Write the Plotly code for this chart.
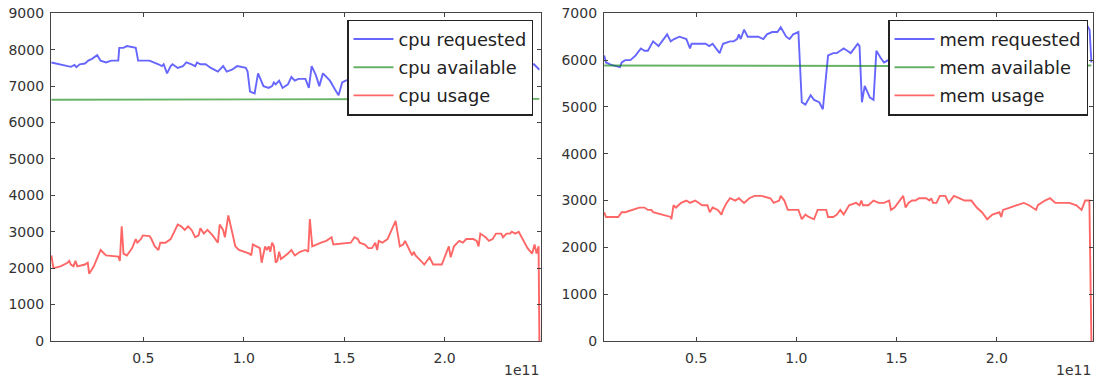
import plotly.graph_objects as go

# ---------------- data (x in units of 1e11) ----------------
cpu_req_x = [0.042, 0.087, 0.122, 0.139, 0.157, 0.166, 0.183, 0.209, 0.226, 0.244, 0.270, 0.287,
             0.314, 0.340, 0.375, 0.380, 0.401, 0.418, 0.462, 0.474, 0.531, 0.557, 0.575, 0.592,
             0.601, 0.618, 0.636, 0.645, 0.671, 0.697, 0.714, 0.740, 0.758, 0.767, 0.784, 0.810,
             0.836, 0.871, 0.897, 0.915, 0.941, 0.967, 1.010, 1.019, 1.031, 1.054, 1.071, 1.098,
             1.124, 1.141, 1.150, 1.159, 1.176, 1.193, 1.220, 1.237, 1.254, 1.272, 1.307, 1.324,
             1.338, 1.359, 1.376, 1.394, 1.429, 1.455, 1.472, 1.490, 1.507, 1.600, 1.750, 1.900,
             2.050, 2.200, 2.350, 2.445, 2.472]
cpu_req_y = [7650, 7600, 7550, 7530, 7580, 7520, 7600, 7620, 7700, 7750, 7850, 7700,
             7650, 7700, 7700, 8050, 8050, 8100, 8050, 7700, 7700, 7650, 7600, 7550,
             7600, 7350, 7550, 7600, 7500, 7550, 7650, 7600, 7550, 7650, 7600, 7600,
             7500, 7400, 7550, 7400, 7450, 7550, 7500, 7400, 6850, 6800, 7350, 7000,
             6950, 7000, 7100, 7050, 7150, 6950, 7050, 7250, 7150, 7200, 7200, 6950,
             7550, 7300, 7000, 7350, 7150, 6900, 6750, 7100, 7150, 7300, 7250, 7400,
             7350, 7500, 7550, 7600, 7450]

cpu_avail_x = [0.042, 0.5, 1.0, 1.5, 2.0, 2.472]
cpu_avail_y = [6625, 6625, 6630, 6640, 6645, 6650]

cpu_use_x = [0.042, 0.052, 0.087, 0.122, 0.131, 0.139, 0.152, 0.162, 0.171, 0.209, 0.223, 0.230,
             0.253, 0.287, 0.314, 0.375, 0.383, 0.392, 0.401, 0.418, 0.444, 0.462, 0.470, 0.488,
             0.497, 0.531, 0.540, 0.557, 0.575, 0.584, 0.610, 0.636, 0.645, 0.671, 0.688, 0.706,
             0.723, 0.740, 0.758, 0.775, 0.784, 0.801, 0.819, 0.845, 0.871, 0.880, 0.897, 0.906,
             0.923, 0.941, 0.958, 0.976, 1.028, 1.037, 1.045, 1.063, 1.080, 1.089, 1.106, 1.115,
             1.124, 1.132, 1.141, 1.150, 1.159, 1.167, 1.176, 1.185, 1.220, 1.237, 1.254, 1.280,
             1.307, 1.321, 1.329, 1.341, 1.359, 1.385, 1.411, 1.437, 1.446, 1.533, 1.551, 1.568,
             1.577, 1.603, 1.620, 1.638, 1.655, 1.664, 1.672, 1.690, 1.716, 1.756, 1.777, 1.794,
             1.803, 1.821, 1.838, 1.847, 1.855, 1.882, 1.899, 1.925, 1.934, 1.943, 1.986, 2.021,
             2.030, 2.047, 2.064, 2.073, 2.091, 2.108, 2.143, 2.160, 2.169, 2.178, 2.204, 2.221,
             2.239, 2.256, 2.282, 2.291, 2.308, 2.326, 2.334, 2.352, 2.369, 2.387, 2.413, 2.436,
             2.448, 2.458, 2.468, 2.472]
cpu_use_y = [2350, 2000, 2050, 2150, 2200, 2100, 2050, 2200, 2050, 2100, 2150, 1850,
             2050, 2500, 2350, 2320, 2200, 3150, 2400, 2350, 2550, 2800, 2700, 2800,
             2900, 2880, 2800, 2600, 2500, 2700, 2700, 2800, 2900, 3200, 3150, 3050,
             3150, 3050, 2850, 2900, 3100, 2950, 3050, 2900, 2700, 3200, 3050, 2850,
             3450, 3000, 2600, 2500, 2400, 2350, 2650, 2600, 2550, 2150, 2600, 2500,
             2600, 2450, 2700, 2600, 2150, 2200, 2450, 2250, 2400, 2500, 2350, 2450,
             2500, 2450, 3350, 2600, 2650, 2700, 2750, 2850, 2650, 2700, 2850, 2800,
             2700, 2650, 2550, 2550, 2700, 2500, 2750, 2700, 2800, 3300, 2600, 2650,
             2750, 2550, 2350, 2450, 2350, 2200, 2100, 2300, 2200, 2100, 2100, 2600,
             2300, 2600, 2700, 2750, 2700, 2800, 2800, 2750, 2600, 2950, 2850, 2750,
             2800, 2950, 2950, 2850, 2950, 2950, 3000, 2950, 3000, 2800, 2550, 2400,
             2650, 2400, 2600, 0]

mem_req_x = [0.041, 0.050, 0.076, 0.111, 0.120, 0.128, 0.146, 0.172, 0.198, 0.224, 0.242, 0.259,
             0.285, 0.312, 0.329, 0.355, 0.373, 0.390, 0.416, 0.451, 0.469, 0.477, 0.512, 0.547,
             0.565, 0.582, 0.599, 0.617, 0.634, 0.669, 0.687, 0.704, 0.713, 0.722, 0.739, 0.757,
             0.783, 0.809, 0.835, 0.853, 0.879, 0.905, 0.922, 0.949, 0.966, 0.984, 1.010, 1.027,
             1.045, 1.071, 1.088, 1.114, 1.132, 1.158, 1.184, 1.202, 1.219, 1.236, 1.254, 1.271,
             1.289, 1.306, 1.315, 1.327, 1.341, 1.367, 1.385, 1.399, 1.420, 1.437, 1.550, 1.700,
             1.850, 2.000, 2.150, 2.300, 2.420, 2.449, 2.463, 2.472]
mem_req_y = [6100, 5950, 5900, 5850, 5850, 5950, 6000, 6000, 6100, 6250, 6200, 6200,
             6400, 6300, 6400, 6550, 6400, 6450, 6500, 6450, 6250, 6350, 6350, 6350,
             6300, 6350, 6250, 6150, 6350, 6400, 6400, 6450, 6550, 6450, 6650, 6500,
             6500, 6500, 6450, 6550, 6600, 6600, 6700, 6500, 6450, 6550, 6600, 5100,
             5050, 5250, 5150, 5100, 4950, 6100, 6150, 6150, 6200, 6250, 6200, 6150,
             6250, 6350, 6300, 5100, 5450, 5200, 5150, 6200, 6050, 5950, 6200, 6300,
             6100, 6400, 6350, 6500, 6700, 6750, 6650, 5950]

mem_avail_x = [0.041, 0.5, 1.0, 1.5, 2.0, 2.472]
mem_avail_y = [5885, 5880, 5875, 5875, 5880, 5885]

mem_use_x = [0.041, 0.050, 0.111, 0.120, 0.128, 0.146, 0.181, 0.216, 0.242, 0.259, 0.277, 0.285,
             0.373, 0.376, 0.387, 0.399, 0.425, 0.451, 0.469, 0.495, 0.530, 0.556, 0.568, 0.582,
             0.608, 0.626, 0.634, 0.652, 0.669, 0.695, 0.713, 0.739, 0.765, 0.791, 0.826, 0.870,
             0.887, 0.914, 0.922, 0.940, 0.957, 0.992, 1.010, 1.027, 1.045, 1.062, 1.088, 1.106,
             1.132, 1.149, 1.158, 1.184, 1.202, 1.219, 1.236, 1.263, 1.298, 1.315, 1.324, 1.332,
             1.359, 1.385, 1.411, 1.437, 1.463, 1.472, 1.490, 1.507, 1.533, 1.545, 1.559, 1.577,
             1.594, 1.612, 1.647, 1.664, 1.673, 1.682, 1.699, 1.716, 1.743, 1.760, 1.786, 1.812,
             1.839, 1.873, 1.900, 1.926, 1.952, 1.978, 2.013, 2.022, 2.031, 2.065, 2.100, 2.135,
             2.161, 2.179, 2.196, 2.205, 2.240, 2.266, 2.292, 2.327, 2.362, 2.397, 2.423, 2.441,
             2.462, 2.472]
mem_use_y = [2750, 2650, 2650, 2700, 2750, 2750, 2800, 2850, 2850, 2800, 2800, 2750,
             2650, 2600, 2900, 2850, 2950, 3000, 2950, 3000, 2900, 2900, 2750, 2850,
             2800, 2700, 2800, 2950, 3050, 3000, 3050, 2950, 3050, 3100, 3100, 3050,
             2950, 3000, 3100, 3000, 2800, 2800, 2800, 2600, 2700, 2650, 2600, 2800,
             2800, 2800, 2650, 2650, 2700, 2800, 2700, 2900, 2950, 2900, 3000, 2900,
             2900, 3000, 2950, 2950, 3000, 2800, 2850, 2950, 3100, 2850, 2950, 3000,
             3000, 3050, 3050, 3000, 3050, 2950, 2950, 3100, 3100, 2950, 3100, 3050,
             3000, 3000, 2850, 2750, 2600, 2700, 2750, 2650, 2800, 2850, 2900, 2950,
             2900, 2850, 2800, 2900, 3000, 3050, 2950, 2950, 2950, 2900, 2800, 3000,
             3000, 0]

left_names = ["cpu requested", "cpu available", "cpu usage"]
right_names = ["mem requested", "mem available", "mem usage"]
x_ticks = [0.5, 1.0, 1.5, 2.0]
x_range = [0.04, 2.48]

BLUE = "rgba(0,0,255,0.6)"
GREEN = "rgba(0,128,0,0.6)"
RED = "rgba(255,0,0,0.6)"
colors = [BLUE, GREEN, RED]

fig = go.Figure()
left_series = [(cpu_req_x, cpu_req_y), (cpu_avail_x, cpu_avail_y), (cpu_use_x, cpu_use_y)]
right_series = [(mem_req_x, mem_req_y), (mem_avail_x, mem_avail_y), (mem_use_x, mem_use_y)]
for i, ((xs, ys), name) in enumerate(zip(left_series, left_names)):
    fig.add_trace(go.Scatter(x=xs, y=ys, name=name, mode="lines",
                             line=dict(color=colors[i], width=1.9),
                             xaxis="x", yaxis="y", legend="legend",
                             legendgroup="l%d" % i))
for i, ((xs, ys), name) in enumerate(zip(right_series, right_names)):
    fig.add_trace(go.Scatter(x=xs, y=ys, name=name, mode="lines",
                             line=dict(color=colors[i], width=1.9),
                             xaxis="x2", yaxis="y2", legend="legend2",
                             legendgroup="r%d" % i))

W, H = 1099, 379
ax_common = dict(showline=True, linecolor="#444", linewidth=1.3, mirror="ticks",
                 ticks="inside", ticklen=4, tickwidth=1, tickcolor="#444",
                 showgrid=False, zeroline=False, automargin=False,
                 tickfont=dict(family="DejaVu Sans", size=14, color="#333"))
yd = [(H - 341) / H, (H - 13.3) / H]
legend_style = dict(yanchor="top", xanchor="right", bgcolor="white", bordercolor="#222",
                    borderwidth=1.5, font=dict(family="DejaVu Sans", size=17.8, color="#222"),
                    traceorder="grouped", tracegroupgap=2, itemwidth=40)
fig.update_layout(
    width=W, height=H, autosize=False,
    margin=dict(l=0, r=0, t=0, b=0, autoexpand=False),
    paper_bgcolor="white", plot_bgcolor="white",
    xaxis=dict(domain=[51 / W, 541 / W], range=x_range, tickvals=x_ticks,
               tickformat=".1f", anchor="y", ticklabelstandoff=4, **ax_common),
    yaxis=dict(domain=yd, range=[0, 9000], dtick=1000, anchor="x",
               ticklabelstandoff=3, **ax_common),
    xaxis2=dict(domain=[604 / W, 1093 / W], range=x_range, tickvals=x_ticks,
                tickformat=".1f", anchor="y2", ticklabelstandoff=4, **ax_common),
    yaxis2=dict(domain=yd, range=[0, 7000], dtick=1000, anchor="x2",
                ticklabelstandoff=3, **ax_common),
    legend=dict(x=533 / W, y=(H - 19.5) / H, **legend_style),
    legend2=dict(x=1088 / W, y=(H - 19.5) / H, **legend_style),
    annotations=[
        dict(text="1e11", xref="paper", yref="paper", x=541 / W, y=(H - 370) / H,
             xanchor="right", yanchor="middle", showarrow=False,
             font=dict(family="DejaVu Sans", size=14, color="#333")),
        dict(text="1e11", xref="paper", yref="paper", x=1093 / W, y=(H - 370) / H,
             xanchor="right", yanchor="middle", showarrow=False,
             font=dict(family="DejaVu Sans", size=14, color="#333")),
    ],
)

fig.write_html("out.html", config={"displayModeBar": False},
               post_script="document.body.style.margin='0';document.body.style.overflow='hidden';")
